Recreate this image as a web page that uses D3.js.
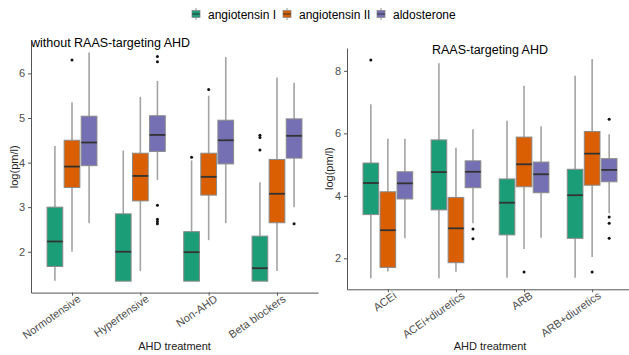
<!DOCTYPE html>
<html>
<head>
<meta charset="utf-8">
<script src="https://cdn.jsdelivr.net/npm/d3@7"></script>
<style>
  body { margin: 0; background: #fff; }
  svg { font-family: "Liberation Sans", Arial, sans-serif; display: block; }
</style>
</head>
<body>
<svg id="chart" width="629" height="355"></svg>
<script>
// series names and Dark2 colours
const seriesNames = ['angiotensin I', 'angiotensin II', 'aldosterone']
const seriesColors = ['#1b9e77', '#d95f02', '#7570b3']

const leftCats = ['Normotensive', 'Hypertensive', 'Non-AHD', 'Beta blockers']
const rightCats = ['ACEi', 'ACEi+diuretics', 'ARB', 'ARB+diuretics']

const leftTicks = [2, 3, 4, 5, 6]
const rightTicks = [2, 4, 6, 8]

// boxes: [lower whisker, q1, median, q3, upper whisker] per category
const leftAngI = [[1.35, 1.67, 2.23, 3.00, 4.37], [1.34, 1.34, 2.00, 2.85, 4.27], [1.34, 1.34, 1.99, 2.45, 4.05], [1.34, 1.34, 1.63, 2.35, 3.56]]
const leftAngII = [[2.00, 3.44, 3.91, 4.50, 5.35], [1.57, 3.14, 3.70, 4.21, 5.47], [2.26, 3.27, 3.68, 4.21, 5.50], [1.57, 2.65, 3.30, 4.07, 5.91]]
const leftAldo = [[2.64, 3.93, 4.45, 5.04, 6.47], [3.61, 4.25, 4.62, 5.05, 5.83], [2.64, 3.97, 4.50, 4.95, 6.37], [3.00, 4.10, 4.60, 4.98, 5.79]]
const leftAngIOut = [[], [], [4.12], [4.61, 4.56, 4.28]]
const leftAngIIOut = [[6.30], [], [5.64], []]
const leftAldoOut = [[], [6.38, 6.26, 3.04, 2.73, 2.68, 2.63], [], [2.63]]

const rightAngI = [[1.36, 3.40, 4.41, 5.05, 6.93], [1.36, 3.55, 4.76, 5.79, 8.24], [1.38, 2.75, 3.78, 4.54, 6.40], [1.38, 2.64, 4.02, 4.85, 7.84]]
const rightAngII = [[1.58, 1.71, 2.90, 4.13, 5.83], [1.57, 1.86, 2.96, 3.95, 5.54], [2.30, 4.29, 5.01, 5.88, 7.52], [2.04, 4.34, 5.35, 6.06, 8.38]]
const rightAldo = [[2.64, 3.90, 4.40, 4.77, 5.83], [3.12, 4.26, 4.77, 5.12, 6.13], [2.66, 4.10, 4.69, 5.08, 6.23], [3.44, 4.45, 4.83, 5.19, 5.97]]
const rightAngIOut = [[8.35], [], [], []]
const rightAngIIOut = [[], [], [1.56], [1.56]]
const rightAldoOut = [[], [2.94, 2.63], [], [6.45, 3.32, 3.12, 2.64]]

const svg = d3.select('#chart')

function drawPanel(opts) {
  const { cats, boxes, outs, ticks, x0, x1, top, bottom, title, titleX, titleAnchor, ylabX } = opts
  const all = d3.merge(boxes.map(b => d3.merge(b))).concat(d3.merge(outs.map(o => d3.merge(o))))
  const [mn, mx] = d3.extent(all)
  const pad = (mx - mn) * 0.05
  const y = d3.scaleLinear().domain([mn - pad, mx + pad]).range([bottom, top])
  const x = d3.scalePoint().domain(cats).range([x0, x1]).padding(0.6)
  const step = x.step()
  const bw = step * 0.23
  const offs = [-0.25, 0, 0.25]

  const g = svg.append('g')

  boxes.forEach((series, si) => {
    series.forEach((b, ci) => {
      const cx = x(cats[ci]) + offs[si] * step
      // whiskers
      g.append('line').attr('x1', cx).attr('x2', cx).attr('y1', y(b[4])).attr('y2', y(b[3]))
        .attr('stroke', '#a3a3a3').attr('stroke-width', 1.6)
      g.append('line').attr('x1', cx).attr('x2', cx).attr('y1', y(b[1])).attr('y2', y(b[0]))
        .attr('stroke', '#a3a3a3').attr('stroke-width', 1.6)
      g.append('rect').attr('x', cx - bw / 2).attr('y', y(b[3]))
        .attr('width', bw).attr('height', Math.max(0, y(b[1]) - y(b[3])))
        .attr('fill', seriesColors[si]).attr('stroke', '#8a8a8a').attr('stroke-width', 1)
      g.append('line').attr('x1', cx - bw / 2).attr('x2', cx + bw / 2).attr('y1', y(b[2])).attr('y2', y(b[2]))
        .attr('stroke', '#333').attr('stroke-width', 1.8)
      outs[si][ci].forEach(v => {
        g.append('circle').attr('cx', cx).attr('cy', y(v)).attr('r', 1.5).attr('fill', '#111')
      })
    })
  })

  const yAxis = svg.append('g').attr('transform', `translate(${x0},0)`)
    .call(d3.axisLeft(y).tickValues(ticks).tickFormat(d3.format('d')).tickSize(3).tickSizeOuter(0).tickPadding(3))
  const xAxis = svg.append('g').attr('transform', `translate(0,${bottom})`)
    .call(d3.axisBottom(x).tickSize(3).tickSizeOuter(0))

  ;[yAxis, xAxis].forEach(a => {
    a.select('.domain').attr('stroke', '#555')
    a.selectAll('.tick line').attr('stroke', '#555')
  })
  yAxis.selectAll('text').attr('fill', '#4d4d4d').style('font-size', '11px')
  xAxis.selectAll('text').attr('fill', '#4d4d4d').style('font-size', '11px')
    .attr('x', 0).attr('y', 0).attr('dy', 0)
    .attr('transform', 'translate(9,8) rotate(-35)')
    .style('text-anchor', 'end')

  svg.append('text').attr('x', titleX).attr('y', top + 6).attr('text-anchor', titleAnchor)
    .style('font-size', '12.5px').attr('fill', '#000').text(title)
  svg.append('text').attr('transform', `translate(${ylabX},${(top + bottom) / 2}) rotate(-90)`)
    .attr('text-anchor', 'middle').style('font-size', '11px').attr('fill', '#222').text('log(pm/l)')
  svg.append('text').attr('x', (x0 + x1) / 2).attr('y', 350).attr('text-anchor', 'middle')
    .style('font-size', '11px').attr('fill', '#222').text('AHD treatment')
}

drawPanel({
  cats: leftCats,
  boxes: [leftAngI, leftAngII, leftAldo],
  outs: [leftAngIOut, leftAngIIOut, leftAldoOut],
  ticks: leftTicks,
  x0: 31, x1: 318, top: 41, bottom: 292.6,
  title: 'without RAAS-targeting AHD', titleX: 31, titleAnchor: 'start', ylabX: 18
})

drawPanel({
  cats: rightCats,
  boxes: [rightAngI, rightAngII, rightAldo],
  outs: [rightAngIOut, rightAngIIOut, rightAldoOut],
  ticks: rightTicks,
  x0: 347, x1: 633, top: 48, bottom: 289.3,
  title: 'RAAS-targeting AHD', titleX: 490, titleAnchor: 'middle', ylabX: 333
})

// legend
const legendX = [196, 287, 381]
const legend = svg.append('g')
seriesNames.forEach((name, i) => {
  const cx = legendX[i]
  legend.append('line').attr('x1', cx).attr('x2', cx).attr('y1', 8).attr('y2', 20)
    .attr('stroke', '#a3a3a3').attr('stroke-width', 1.2)
  legend.append('rect').attr('x', cx - 4).attr('y', 10.5).attr('width', 8).attr('height', 7)
    .attr('fill', seriesColors[i]).attr('stroke', '#8a8a8a').attr('stroke-width', 0.8)
  legend.append('line').attr('x1', cx - 4).attr('x2', cx + 4).attr('y1', 14).attr('y2', 14)
    .attr('stroke', '#333').attr('stroke-width', 1)
  legend.append('text').attr('x', cx + 12).attr('y', 19).style('font-size', '12px').attr('fill', '#000').text(name)
})
</script>
</body>
</html>
